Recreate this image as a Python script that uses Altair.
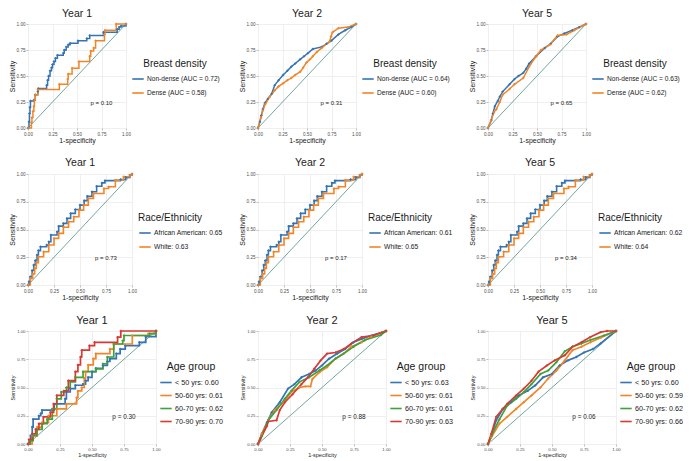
import altair as alt
import pandas as pd

TICKS = [0, 0.25, 0.5, 0.75, 1.0]
DIAG = [(0, 0), (1, 1)]
P_POS = (0.75, 0.24)
YEARS = ["Year 1", "Year 2", "Year 5"]

BLUE, ORANGE, GREEN, RED = "#3474b3", "#f28527", "#3ea23a", "#d83a33"

# ---------------- Row 1 : breast density ----------------
DENSITY_TITLE = "Breast density"
DENSITY_NAMES = [
    ["Non-dense (AUC = 0.72)", "Dense (AUC = 0.58)"],
    ["Non-dense (AUC = 0.64)", "Dense (AUC = 0.60)"],
    ["Non-dense (AUC = 0.63)", "Dense (AUC = 0.62)"],
]
DENSITY_P = ["p = 0.10", "p = 0.31", "p = 0.65"]

NONDENSE_Y1 = [(0, 0), (0.01, 0.06), (0.015, 0.14), (0.02, 0.2), (0.025, 0.26), (0.06, 0.27),
               (0.074, 0.32), (0.1, 0.35), (0.105, 0.38), (0.19, 0.41), (0.2, 0.46), (0.21, 0.5),
               (0.225, 0.55), (0.24, 0.58), (0.25, 0.61), (0.265, 0.64), (0.28, 0.67), (0.3, 0.7),
               (0.36, 0.72), (0.37, 0.75), (0.39, 0.78), (0.41, 0.8), (0.43, 0.815), (0.51, 0.84),
               (0.6, 0.86), (0.63, 0.89), (0.77, 0.92), (0.91, 0.95), (0.93, 0.97), (0.95, 0.98), (1, 1)]
DENSE_Y1 = [(0, 0), (0.035, 0.05), (0.04, 0.1), (0.05, 0.16), (0.06, 0.21), (0.065, 0.27),
            (0.075, 0.32), (0.1, 0.37), (0.32, 0.42), (0.405, 0.47), (0.41, 0.52), (0.45, 0.575),
            (0.52, 0.64), (0.63, 0.69), (0.64, 0.74), (0.67, 0.77), (0.69, 0.84), (0.78, 0.9),
            (0.785, 0.94), (0.9, 1.0), (1, 1)]
NONDENSE_Y2 = [(0, 0), (0.02, 0.06), (0.034, 0.12), (0.05, 0.18), (0.07, 0.24), (0.1, 0.28),
               (0.14, 0.33), (0.17, 0.41), (0.21, 0.46), (0.256, 0.51), (0.3, 0.55), (0.34, 0.59),
               (0.38, 0.62), (0.43, 0.66), (0.47, 0.69), (0.51, 0.72), (0.56, 0.76), (0.65, 0.78),
               (0.7, 0.81), (0.75, 0.84), (0.82, 0.9), (0.89, 0.94), (0.95, 0.97), (1, 1)]
DENSE_Y2 = [(0, 0), (0.03, 0.105), (0.05, 0.17), (0.075, 0.23), (0.12, 0.3), (0.17, 0.36),
            (0.21, 0.4), (0.256, 0.43), (0.3, 0.46), (0.34, 0.48), (0.38, 0.51), (0.43, 0.54),
            (0.46, 0.58), (0.495, 0.63), (0.53, 0.66), (0.56, 0.69), (0.6, 0.73), (0.65, 0.77),
            (0.73, 0.83), (0.745, 0.88), (0.76, 0.92), (0.82, 0.96), (0.92, 0.97), (1, 1)]
NONDENSE_Y5 = [(0, 0), (0.034, 0.075), (0.05, 0.14), (0.07, 0.21), (0.1, 0.26), (0.12, 0.3),
               (0.15, 0.35), (0.22, 0.42), (0.27, 0.47), (0.31, 0.5), (0.36, 0.53), (0.39, 0.57),
               (0.42, 0.62), (0.49, 0.69), (0.58, 0.77), (0.64, 0.81), (0.71, 0.88), (0.78, 0.91),
               (0.86, 0.94), (0.93, 0.97), (1, 1)]
DENSE_Y5 = [(0, 0), (0.03, 0.07), (0.06, 0.15), (0.085, 0.18), (0.12, 0.25), (0.15, 0.32),
            (0.22, 0.375), (0.27, 0.42), (0.36, 0.48), (0.42, 0.59), (0.49, 0.69), (0.54, 0.75),
            (0.63, 0.8), (0.71, 0.89), (0.8, 0.9), (0.88, 0.94), (1, 1)]

# ---------------- Row 2 : race / ethnicity ----------------
RACE_TITLE = "Race/Ethnicity"
RACE_NAMES = [
    ["African American: 0.65", "White: 0.63"],
    ["African American: 0.61", "White: 0.65"],
    ["African American: 0.62", "White: 0.64"],
]
RACE_P = ["p = 0.73", "p = 0.17", "p = 0.34"]
RACE_AA = [(0, 0), (0.01, 0.03), (0.022, 0.075), (0.04, 0.13), (0.055, 0.18), (0.07, 0.22),
           (0.087, 0.27), (0.1, 0.31), (0.12, 0.345), (0.18, 0.36), (0.2, 0.39), (0.22, 0.45),
           (0.28, 0.48), (0.295, 0.53), (0.34, 0.555), (0.375, 0.6), (0.41, 0.645), (0.455, 0.68),
           (0.5, 0.72), (0.54, 0.76), (0.57, 0.8), (0.615, 0.84), (0.66, 0.89), (0.71, 0.92),
           (0.74, 0.94), (0.89, 0.95), (0.94, 0.97), (0.98, 0.99), (1, 1)]
RACE_WHITE = [(0, 0), (0.022, 0.06), (0.045, 0.1), (0.064, 0.15), (0.08, 0.2), (0.1, 0.255),
              (0.15, 0.3), (0.2, 0.36), (0.25, 0.42), (0.295, 0.465), (0.34, 0.52), (0.39, 0.57),
              (0.44, 0.615), (0.49, 0.675), (0.535, 0.72), (0.58, 0.78), (0.63, 0.825), (0.73, 0.87),
              (0.775, 0.885), (0.84, 0.945), (0.92, 0.975), (0.98, 0.99), (1, 1)]

# ---------------- Row 3 : age group ----------------
AGE_TITLE = "Age group"
AGE_NAMES = [
    ["< 50 yrs: 0.60", "50-60 yrs: 0.61", "60-70 yrs: 0.62", "70-90 yrs: 0.70"],
    ["< 50 yrs: 0.63", "50-60 yrs: 0.61", "60-70 yrs: 0.61", "70-90 yrs: 0.63"],
    ["< 50 yrs: 0.60", "50-60 yrs: 0.59", "60-70 yrs: 0.62", "70-90 yrs: 0.66"],
]
AGE_P = ["p = 0.30", "p = 0.88", "p = 0.06"]
AGE_LT50_Y1 = [(0, 0), (0.02, 0.074), (0.033, 0.15), (0.04, 0.22), (0.085, 0.25), (0.1, 0.27),
               (0.11, 0.3), (0.205, 0.355), (0.29, 0.4), (0.3, 0.46), (0.33, 0.49), (0.37, 0.52),
               (0.43, 0.53), (0.45, 0.56), (0.47, 0.59), (0.5, 0.64), (0.53, 0.67), (0.585, 0.695),
               (0.62, 0.73), (0.64, 0.755), (0.69, 0.8), (0.72, 0.84), (0.76, 0.87), (0.87, 0.9),
               (0.92, 0.95), (1, 1)]
AGE_5060_Y1 = [(0, 0), (0.033, 0.074), (0.072, 0.15), (0.11, 0.19), (0.16, 0.25), (0.225, 0.31),
               (0.3, 0.355), (0.38, 0.41), (0.39, 0.47), (0.42, 0.5), (0.44, 0.58), (0.45, 0.64),
               (0.47, 0.7), (0.51, 0.755), (0.53, 0.8), (0.64, 0.84), (0.67, 0.885), (0.815, 0.96),
               (0.94, 0.976), (1, 1)]
AGE_6070_Y1 = [(0, 0), (0.015, 0.03), (0.04, 0.074), (0.07, 0.13), (0.11, 0.18), (0.15, 0.22),
               (0.19, 0.31), (0.225, 0.4), (0.26, 0.46), (0.3, 0.5), (0.33, 0.55), (0.37, 0.59),
               (0.43, 0.64), (0.53, 0.665), (0.585, 0.71), (0.62, 0.77), (0.67, 0.885),
               (0.74, 0.915), (0.75, 0.96), (0.95, 0.976), (1, 1)]
AGE_7090_Y1 = [(0, 0), (0.008, 0.04), (0.033, 0.09), (0.06, 0.13), (0.085, 0.18), (0.12, 0.24),
               (0.175, 0.28), (0.2, 0.355), (0.225, 0.43), (0.28, 0.47), (0.315, 0.56), (0.37, 0.64),
               (0.39, 0.7), (0.41, 0.77), (0.42, 0.83), (0.48, 0.87), (0.52, 0.9), (0.7, 0.945),
               (0.725, 1.0), (1, 1)]
AGE_LT50_Y2 = [(0, 0), (0.03, 0.09), (0.07, 0.19), (0.107, 0.28), (0.17, 0.37), (0.235, 0.49),
               (0.285, 0.53), (0.34, 0.59), (0.4, 0.62), (0.45, 0.65), (0.5, 0.695), (0.555, 0.755),
               (0.62, 0.8), (0.68, 0.84), (0.745, 0.9), (0.81, 0.93), (0.885, 0.96), (1, 1)]
AGE_5060_Y2 = [(0, 0), (0.03, 0.09), (0.08, 0.21), (0.13, 0.3), (0.2, 0.37), (0.26, 0.46),
               (0.325, 0.5), (0.37, 0.51), (0.41, 0.51), (0.425, 0.575), (0.48, 0.635), (0.54, 0.68),
               (0.605, 0.755), (0.67, 0.8), (0.73, 0.86), (0.81, 0.9), (0.885, 0.95), (1, 1)]
AGE_6070_Y2 = [(0, 0), (0.03, 0.07), (0.08, 0.21), (0.145, 0.3), (0.21, 0.4), (0.26, 0.47),
               (0.325, 0.55), (0.4, 0.59), (0.48, 0.65), (0.54, 0.695), (0.605, 0.755), (0.67, 0.8),
               (0.745, 0.86), (0.835, 0.92), (0.96, 0.965), (1, 1)]
AGE_7090_Y2 = [(0, 0), (0.018, 0.044), (0.07, 0.16), (0.08, 0.2), (0.145, 0.21), (0.17, 0.3),
               (0.21, 0.37), (0.27, 0.44), (0.34, 0.53), (0.39, 0.59), (0.44, 0.665), (0.49, 0.74),
               (0.54, 0.8), (0.605, 0.81), (0.67, 0.84), (0.73, 0.89), (0.81, 0.946), (0.9, 0.96), (1, 1)]
AGE_LT50_Y5 = [(0, 0), (0.026, 0.074), (0.064, 0.21), (0.115, 0.31), (0.18, 0.37), (0.24, 0.43),
               (0.31, 0.47), (0.37, 0.52), (0.43, 0.59), (0.5, 0.62), (0.56, 0.695), (0.625, 0.74),
               (0.69, 0.77), (0.75, 0.81), (0.82, 0.84), (0.88, 0.89), (1, 1)]
AGE_5060_Y5 = [(0, 0), (0.026, 0.06), (0.09, 0.18), (0.15, 0.24), (0.22, 0.31), (0.28, 0.37),
               (0.34, 0.43), (0.41, 0.5), (0.47, 0.58), (0.535, 0.65), (0.6, 0.74), (0.66, 0.83),
               (0.73, 0.86), (0.8, 0.9), (0.88, 0.94), (1, 1)]
AGE_6070_Y5 = [(0, 0), (0.026, 0.074), (0.09, 0.22), (0.15, 0.34), (0.22, 0.4), (0.28, 0.46),
               (0.34, 0.53), (0.41, 0.62), (0.47, 0.65), (0.535, 0.725), (0.6, 0.82), (0.66, 0.86),
               (0.73, 0.89), (0.8, 0.92), (0.905, 0.96), (1, 1)]
AGE_7090_Y5 = [(0, 0), (0.026, 0.09), (0.064, 0.24), (0.115, 0.31), (0.15, 0.355), (0.22, 0.43),
               (0.28, 0.49), (0.34, 0.56), (0.395, 0.64), (0.46, 0.695), (0.52, 0.74), (0.6, 0.785),
               (0.66, 0.86), (0.73, 0.9), (0.8, 0.946), (0.88, 0.99), (0.93, 1.0), (1, 1)]

FONT = "Liberation Sans"


def panel(names, curves, colors, step, year, p_label, legend_title, sty):
    rows = []
    for n, pts in zip(names, curves):
        for i, (x, y) in enumerate(pts):
            rows.append({"x": x, "y": y, "g": n, "o": i})
    df = pd.DataFrame(rows)
    common = dict(values=TICKS, format=".2f", labelFontSize=sty["tick"], titleFontSize=sty["axt"],
                  titleFontWeight="normal", labelColor="#4d4d4d", titleColor="#1a1a1a",
                  grid=True, gridColor="#ebebeb", gridWidth=0.8, domain=False, tickColor="#bdbdbd",
                  tickSize=2, labelPadding=1, titlePadding=1, labelFont=FONT, titleFont=FONT)
    xax = alt.Axis(title="1-specificity", labelFlush=False, **common)
    yax = alt.Axis(title="Sensitivity", **common)
    sc = alt.Scale(domain=[0, 1], nice=False, zero=False)
    xs = alt.X("x:Q", scale=sc, axis=xax)
    ys = alt.Y("y:Q", scale=sc, axis=yax)
    leg = alt.Legend(title=legend_title, orient="none", legendX=sty["w"] + sty["lx"], legendY=sty["ly"],
                     titleFontSize=sty["lt"], titleFontWeight="normal", titleFont=FONT, titleColor="#1a1a1a",
                     titleAnchor=sty["anchor"], titlePadding=3,
                     labelFontSize=sty["ll"], labelFont=FONT, labelColor="#1a1a1a", labelLimit=300,
                     symbolType="stroke", symbolSize=130, symbolStrokeWidth=1.6, rowPadding=sty["rp"],
                     labelOffset=2)
    color = alt.Color("g:N", scale=alt.Scale(domain=names, range=colors), legend=leg)
    base = alt.Chart(df)
    lines = base.mark_line(interpolate="step-after" if step else "linear",
                           strokeWidth=sty["lw"]).encode(x=xs, y=ys, color=color, order="o:Q")
    marks = base.mark_point(shape="cross", filled=True, size=sty["ms"], opacity=1).encode(
        x=xs, y=ys, color=color)
    ddf = pd.DataFrame({"x": [p[0] for p in DIAG], "y": [p[1] for p in DIAG]})
    diag = alt.Chart(ddf).mark_line(color="#4f8f87", strokeWidth=0.8).encode(x=xs, y=ys)
    tdf = pd.DataFrame({"x": [P_POS[0]], "y": [P_POS[1]], "t": [p_label]})
    ptxt = alt.Chart(tdf).mark_text(fontSize=sty["pfs"], font=FONT, color="#1a1a1a").encode(
        x=xs, y=ys, text="t:N")
    return alt.layer(diag, lines, marks, ptxt).properties(
        width=sty["w"], height=sty["h"],
        title=alt.TitleParams(year, fontSize=sty["tfs"], fontWeight="normal", font=FONT,
                              color="#1a1a1a", offset=2))


STY1 = dict(w=98, h=104, tick=4.6, axt=7, tfs=10.5, pfs=6, lw=1.5, ms=6, lt=10, ll=6.6, lx=5, ly=35,
            rp=3, anchor="middle")
STY2 = dict(w=104, h=111, tick=4.6, axt=7, tfs=10.5, pfs=6, lw=1.6, ms=6, lt=10, ll=6.8, lx=6, ly=39,
            rp=3, anchor="start")
STY3 = dict(w=128, h=113, tick=4.3, axt=5.5, tfs=11, pfs=6.4, lw=1.7, ms=6, lt=10.5, ll=7.2, lx=3, ly=31,
            rp=2, anchor="middle")

density_curves = [[NONDENSE_Y1, DENSE_Y1], [NONDENSE_Y2, DENSE_Y2], [NONDENSE_Y5, DENSE_Y5]]
race_curves = [[RACE_AA, RACE_WHITE]] * 3
age_curves = [[AGE_LT50_Y1, AGE_5060_Y1, AGE_6070_Y1, AGE_7090_Y1],
              [AGE_LT50_Y2, AGE_5060_Y2, AGE_6070_Y2, AGE_7090_Y2],
              [AGE_LT50_Y5, AGE_5060_Y5, AGE_6070_Y5, AGE_7090_Y5]]

panels = []
for i in range(3):
    panels.append(panel(DENSITY_NAMES[i], density_curves[i], [BLUE, ORANGE], i == 0, YEARS[i],
                        DENSITY_P[i], DENSITY_TITLE, STY1))
for i in range(3):
    panels.append(panel(RACE_NAMES[i], race_curves[i], [BLUE, ORANGE], True, YEARS[i],
                        RACE_P[i], RACE_TITLE, STY2))
for i in range(3):
    panels.append(panel(AGE_NAMES[i], age_curves[i], [BLUE, ORANGE, GREEN, RED], i == 0, YEARS[i],
                        AGE_P[i], AGE_TITLE, STY3))

chart = alt.concat(*panels, columns=3, spacing={"row": 46, "column": 102}, bounds="flush").resolve_scale(
    color="independent", x="independent", y="independent").properties(
    padding={"left": 0, "top": 0, "right": 0, "bottom": 0}, background="white"
).configure(font=FONT).configure_view(stroke=None)

chart.save("out.html", embed_options={"renderer": "svg", "actions": False})
